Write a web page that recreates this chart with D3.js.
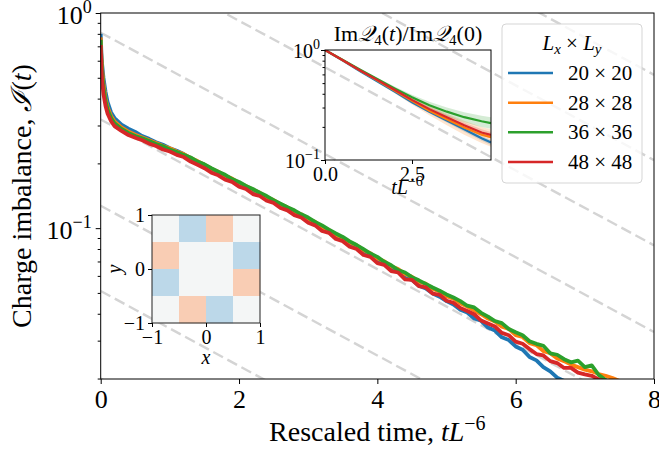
<!DOCTYPE html>
<html>
<head>
<meta charset="utf-8">
<script src="https://cdn.jsdelivr.net/npm/d3@7"></script>
<style>
  body { margin: 0; background: #fff; }
  text { font-family: "Liberation Serif", "DejaVu Serif", serif; fill: #000; }
</style>
</head>
<body>
<svg id="chart" width="659" height="452"></svg>
<script>
// ---- data ----
const times = [0, 0.01, 0.02, 0.04, 0.07, 0.1, 0.15, 0.2, 0.3, 0.4,
  0.5, 0.6, 0.7, 0.8, 0.9, 1.0, 1.1, 1.2, 1.3, 1.4,
  1.5, 1.6, 1.7, 1.8, 1.9, 2.0, 2.1, 2.2, 2.3, 2.4,
  2.5, 2.6, 2.7, 2.8, 2.9, 3.0, 3.1, 3.2, 3.3, 3.4,
  3.5, 3.6, 3.7, 3.8, 3.9, 4.0, 4.1, 4.2, 4.3, 4.4,
  4.5, 4.6, 4.7, 4.8, 4.9, 5.0, 5.1, 5.2, 5.3, 5.4,
  5.5, 5.6, 5.7, 5.8, 5.9, 6.0, 6.1, 6.2, 6.3, 6.4,
  6.5, 6.6, 6.7, 6.8, 6.9, 7.0, 7.1, 7.2, 7.3, 7.4, 7.5];

const imb20 = [0.80, 0.65, 0.58, 0.50, 0.43, 0.385, 0.345, 0.325, 0.303, 0.290,
  0.280, 0.268, 0.260, 0.251, 0.244, 0.235, 0.229, 0.221, 0.211, 0.203,
  0.195, 0.187, 0.181, 0.173, 0.168, 0.160, 0.155, 0.148, 0.144, 0.137,
  0.133, 0.127, 0.123, 0.118, 0.114, 0.109, 0.105, 0.100, 0.096, 0.092,
  0.088, 0.084, 0.081, 0.077, 0.0745, 0.0705, 0.0680, 0.0645, 0.0625, 0.0588,
  0.0575, 0.0540, 0.0525, 0.0497, 0.0480, 0.0458, 0.0442, 0.0418, 0.0405, 0.0380,
  0.0371, 0.0345, 0.0334, 0.0311, 0.0302, 0.0282, 0.0272, 0.0252, 0.0243, 0.0226,
  0.0216, 0.0202, 0.0195, 0.0188];

const imb28 = [0.77, 0.62, 0.55, 0.47, 0.40, 0.365, 0.332, 0.313, 0.294, 0.281,
  0.272, 0.264, 0.256, 0.249, 0.241, 0.235, 0.227, 0.221, 0.212, 0.205,
  0.197, 0.189, 0.183, 0.175, 0.170, 0.162, 0.157, 0.151, 0.146, 0.139,
  0.135, 0.129, 0.125, 0.119, 0.116, 0.110, 0.107, 0.101, 0.098, 0.093,
  0.0905, 0.0858, 0.0832, 0.0790, 0.0765, 0.0723, 0.0702, 0.0665, 0.0645, 0.0612,
  0.0595, 0.0562, 0.0552, 0.0522, 0.0508, 0.0483, 0.0470, 0.0448, 0.0432, 0.0415,
  0.0398, 0.0380, 0.0368, 0.0348, 0.0340, 0.0318, 0.0312, 0.0292, 0.0286, 0.0268,
  0.0262, 0.0248, 0.0241, 0.0232, 0.0226, 0.0220, 0.0216, 0.0210, 0.0206, 0.0201, 0.0195];

const imb36 = [0.75, 0.60, 0.53, 0.45, 0.39, 0.355, 0.325, 0.307, 0.289, 0.277,
  0.268, 0.2615, 0.254, 0.246, 0.240, 0.232, 0.226, 0.219, 0.213, 0.204,
  0.198, 0.190, 0.183, 0.177, 0.169, 0.164, 0.157, 0.152, 0.146, 0.141,
  0.135, 0.130, 0.125, 0.121, 0.116, 0.112, 0.107, 0.103, 0.0985, 0.0945,
  0.091, 0.0868, 0.0835, 0.0798, 0.0762, 0.0735, 0.0698, 0.0672, 0.0638, 0.0622,
  0.0592, 0.0572, 0.0551, 0.0530, 0.0512, 0.0492, 0.0476, 0.0458, 0.0436, 0.0428,
  0.0404, 0.0388, 0.0370, 0.0362, 0.0340, 0.0328, 0.0318, 0.0298, 0.0290, 0.0284,
  0.0262, 0.0258, 0.0246, 0.0238, 0.0242, 0.0226, 0.0230, 0.0208, 0.0197, 0.0188, 0.018];

const imb48 = [0.71, 0.56, 0.49, 0.42, 0.37, 0.34, 0.314, 0.298, 0.283, 0.271,
  0.263, 0.256, 0.247, 0.241, 0.232, 0.227, 0.219, 0.214, 0.204, 0.197,
  0.190, 0.181, 0.176, 0.168, 0.164, 0.156, 0.152, 0.144, 0.141, 0.134,
  0.131, 0.124, 0.121, 0.115, 0.112, 0.106, 0.103, 0.097, 0.095, 0.089,
  0.087, 0.082, 0.080, 0.075, 0.0735, 0.0688, 0.0675, 0.0632, 0.0622, 0.0578,
  0.0575, 0.0538, 0.0530, 0.0496, 0.0490, 0.0460, 0.0450, 0.0425, 0.0412, 0.0398,
  0.0372, 0.0360, 0.0349, 0.0326, 0.0318, 0.0297, 0.0290, 0.0274, 0.0260, 0.0256,
  0.0241, 0.0236, 0.0224, 0.0224, 0.0213, 0.0209, 0.0206, 0.0198, 0.0194, 0.0186, 0.018];

const sizeLabels = ['20', '28', '36', '48'];
const colors = ['#1f77b4', '#ff7f0e', '#2ca02c', '#d62728'];

// grey dashed guides: value at t = 0 and at t = 8
const guideAt0 = [12.7, 5.1, 2.05, 0.81, 0.32, 0.127, 0.051, 0.020];
const guideAt8 = [0.516, 0.207, 0.0832, 0.0329, 0.0130, 0.00516, 0.00207, 0.00081];

const xTicks = [0, 2, 4, 6, 8];
const yMajor = [1, 0.1];
const yMinor = [0.9, 0.8, 0.7, 0.6, 0.5, 0.4, 0.3, 0.2, 0.09, 0.08, 0.07, 0.06, 0.05, 0.04, 0.03, 0.02];

// inset: Im Q4(t) / Im Q4(0)
const qTimes = [0, 0.5, 1, 1.5, 2, 2.5, 3, 3.5, 4, 4.5, 4.77];
const q20 = [1, 0.805, 0.645, 0.52, 0.418, 0.335, 0.275, 0.228, 0.19, 0.158, 0.144];
const q28 = [1, 0.81, 0.655, 0.53, 0.428, 0.345, 0.28, 0.235, 0.197, 0.17, 0.161];
const q36 = [1, 0.815, 0.665, 0.545, 0.448, 0.372, 0.315, 0.275, 0.245, 0.225, 0.216];
const q48 = [1, 0.81, 0.655, 0.535, 0.435, 0.352, 0.29, 0.245, 0.207, 0.178, 0.169];
const q20lo = [1, 0.8, 0.638, 0.512, 0.41, 0.326, 0.266, 0.219, 0.181, 0.15, 0.136];
const q20hi = [1, 0.81, 0.652, 0.528, 0.426, 0.344, 0.284, 0.237, 0.199, 0.166, 0.152];
const q28lo = [1, 0.8, 0.64, 0.51, 0.405, 0.32, 0.255, 0.207, 0.17, 0.143, 0.132];
const q28hi = [1, 0.82, 0.67, 0.55, 0.452, 0.372, 0.31, 0.265, 0.228, 0.2, 0.19];
const q36lo = [1, 0.81, 0.655, 0.532, 0.43, 0.352, 0.292, 0.25, 0.22, 0.2, 0.192];
const q36hi = [1, 0.82, 0.675, 0.56, 0.466, 0.392, 0.338, 0.3, 0.272, 0.252, 0.245];
const q48lo = [1, 0.8, 0.64, 0.52, 0.42, 0.338, 0.277, 0.232, 0.195, 0.167, 0.158];
const q48hi = [1, 0.82, 0.67, 0.55, 0.45, 0.366, 0.303, 0.258, 0.219, 0.19, 0.18];

// inset: initial charge pattern (rows from y = +1 down to y = -1)
const pattern = [
  [0, -1, 1, 0],
  [1, 0, 0, -1],
  [-1, 0, 0, 1],
  [0, 1, -1, 0]
];

// ---- drawing ----
const svg = d3.select('#chart');
const main = { left: 100.7, right: 654, top: 13, bottom: 379 };

const x = d3.scaleLinear().domain([0, 8]).range([main.left, main.right]);
const y = d3.scaleLog().domain([0.0199, 1]).range([main.bottom, main.top]);

const defs = svg.append('defs');
defs.append('clipPath').attr('id', 'clipMain').append('rect')
  .attr('x', main.left).attr('y', main.top)
  .attr('width', main.right - main.left).attr('height', main.bottom - main.top);

// Guides
const guides = svg.append('g').attr('clip-path', 'url(#clipMain)');
guideAt0.forEach((v, i) => {
  guides.append('line')
    .attr('x1', x(0)).attr('y1', y(v))
    .attr('x2', x(8)).attr('y2', y(guideAt8[i]))
    .attr('stroke', '#d4d4d4').attr('stroke-width', 2.4)
    .attr('stroke-dasharray', '11,5');
});

// Main curves
const mainSeries = [imb20, imb28, imb36, imb48];
const line = d3.line().x(d => x(d[0])).y(d => y(d[1]));
const curves = svg.append('g').attr('clip-path', 'url(#clipMain)');
mainSeries.forEach((vals, i) => {
  const pts = vals.map((v, j) => [times[j], v]);
  curves.append('path').datum(pts)
    .attr('d', line)
    .attr('fill', 'none')
    .attr('stroke', colors[i])
    .attr('stroke-width', 3.8)
    .attr('stroke-linejoin', 'round');
});

// Axes
const xAxis = svg.append('g')
  .attr('transform', `translate(0,${main.bottom})`)
  .call(d3.axisBottom(x).tickValues(xTicks).tickSize(5).tickPadding(6).tickFormat(d3.format('d')));
xAxis.select('.domain').remove();
xAxis.selectAll('text').style('font-size', '26px').attr('dy', '0.71em');

const yMinorAxis = svg.append('g')
  .attr('transform', `translate(${main.left},0)`)
  .call(d3.axisLeft(y).tickValues(yMinor).tickSize(3).tickFormat(''));
yMinorAxis.select('.domain').remove();
const yMajorAxis = svg.append('g')
  .attr('transform', `translate(${main.left},0)`)
  .call(d3.axisLeft(y).tickValues(yMajor).tickSize(5).tickFormat(''));
yMajorAxis.select('.domain').remove();
svg.selectAll('.tick line').attr('stroke', '#000');

yMajor.forEach(v => {
  const t = svg.append('text')
    .attr('x', main.left - 9).attr('y', y(v) + 11)
    .attr('text-anchor', 'end').style('font-size', '26px');
  t.append('tspan').text('10');
  t.append('tspan').attr('dy', -11).style('font-size', '18px').text(v === 1 ? '0' : '\u22121');
});

svg.append('rect')
  .attr('x', main.left).attr('y', main.top)
  .attr('width', main.right - main.left).attr('height', main.bottom - main.top)
  .attr('fill', 'none').attr('stroke', '#000').attr('stroke-width', 1);

// Axis labels
const xl = svg.append('text')
  .attr('x', (main.left + main.right) / 2).attr('y', 441)
  .attr('text-anchor', 'middle').style('font-size', '28px');
xl.append('tspan').text('Rescaled time, ');
xl.append('tspan').style('font-style', 'italic').text('tL');
xl.append('tspan').attr('dy', -11).style('font-size', '20px').text('\u22126');

const yl = svg.append('text')
  .attr('transform', `translate(31,${(main.top + main.bottom) / 2}) rotate(-90)`)
  .attr('text-anchor', 'middle').style('font-size', '28px');
yl.append('tspan').text('Charge imbalance, ');
yl.append('tspan').style('font-style', 'italic').text('\u2110');
yl.append('tspan').text('(');
yl.append('tspan').style('font-style', 'italic').text('t');
yl.append('tspan').text(')');

// ---- Inset: Q4 ratio ----
const ins = { left: 325, right: 491, top: 50, bottom: 160 };
const xi = d3.scaleLinear().domain([0, 4.77]).range([ins.left, ins.right]);
const yi = d3.scaleLog().domain([0.1, 1]).range([ins.bottom, ins.top]);
defs.append('clipPath').attr('id', 'clipInset').append('rect')
  .attr('x', ins.left).attr('y', ins.top)
  .attr('width', ins.right - ins.left).attr('height', ins.bottom - ins.top);

const qMean = [q20, q28, q36, q48];
const qLo = [q20lo, q28lo, q36lo, q48lo];
const qHi = [q20hi, q28hi, q36hi, q48hi];
const insetG = svg.append('g').attr('clip-path', 'url(#clipInset)');
const area = d3.area().x(d => xi(d[0])).y0(d => yi(d[1])).y1(d => yi(d[2]));
qMean.forEach((vals, i) => {
  insetG.append('path')
    .datum(qTimes.map((t, j) => [t, qLo[i][j], qHi[i][j]]))
    .attr('d', area).attr('fill', colors[i]).attr('fill-opacity', 0.2);
});
const qLine = d3.line().x(d => xi(d[0])).y(d => yi(d[1]));
qMean.forEach((vals, i) => {
  insetG.append('path')
    .datum(qTimes.map((t, j) => [t, vals[j]]))
    .attr('d', qLine).attr('fill', 'none')
    .attr('stroke', colors[i]).attr('stroke-width', 2.2);
});

const xiAxis = svg.append('g').attr('transform', `translate(0,${ins.bottom})`)
  .call(d3.axisBottom(xi).tickValues([0, 2.5]).tickSize(4).tickPadding(3).tickFormat(d3.format('.1f')));
xiAxis.select('.domain').remove();
xiAxis.selectAll('text').style('font-size', '20px');
const yiMinor = svg.append('g').attr('transform', `translate(${ins.left},0)`)
  .call(d3.axisLeft(yi).tickValues([0.2, 0.3, 0.4, 0.5, 0.6, 0.7, 0.8, 0.9]).tickSize(2.5).tickFormat(''));
yiMinor.select('.domain').remove();
const yiMajor = svg.append('g').attr('transform', `translate(${ins.left},0)`)
  .call(d3.axisLeft(yi).tickValues([1, 0.1]).tickSize(4).tickFormat(''));
yiMajor.select('.domain').remove();
svg.selectAll('.tick line').attr('stroke', '#000');

[1, 0.1].forEach(v => {
  const t = svg.append('text')
    .attr('x', ins.left - 5).attr('y', yi(v) + 8)
    .attr('text-anchor', 'end').style('font-size', '20px');
  t.append('tspan').text('10');
  t.append('tspan').attr('dy', -9).style('font-size', '14px').text(v === 1 ? '0' : '\u22121');
});
svg.append('rect')
  .attr('x', ins.left).attr('y', ins.top)
  .attr('width', ins.right - ins.left).attr('height', ins.bottom - ins.top)
  .attr('fill', 'none').attr('stroke', '#000').attr('stroke-width', 1);

const qt = svg.append('text').attr('x', (ins.left + ins.right) / 2).attr('y', 41)
  .attr('text-anchor', 'middle').style('font-size', '22px');
qt.append('tspan').text('Im');
qt.append('tspan').style('font-style', 'italic').text('\uD835\uDCAC');
qt.append('tspan').attr('dy', 4).style('font-size', '15px').text('4');
qt.append('tspan').attr('dy', -4).text('(');
qt.append('tspan').style('font-style', 'italic').text('t');
qt.append('tspan').text(')/Im');
qt.append('tspan').style('font-style', 'italic').text('\uD835\uDCAC');
qt.append('tspan').attr('dy', 4).style('font-size', '15px').text('4');
qt.append('tspan').attr('dy', -4).text('(0)');

const qx = svg.append('text').attr('x', 407).attr('y', 194)
  .attr('text-anchor', 'middle').style('font-size', '20px');
qx.append('tspan').style('font-style', 'italic').text('tL');
qx.append('tspan').attr('dy', -8).style('font-size', '14px').text('\u22126');

// ---- Inset: initial pattern ----
const hm = { left: 152, right: 260, top: 215, bottom: 323 };
const cellX = d3.scaleBand().domain(d3.range(4)).range([hm.left, hm.right]);
const cellY = d3.scaleBand().domain(d3.range(4)).range([hm.top, hm.bottom]);
const hmColor = d3.scaleOrdinal().domain([-1, 0, 1]).range(['#bcd8e9', '#f4f6f6', '#f9cdb4']);
const hx = d3.scaleLinear().domain([-1, 1]).range([hm.left, hm.right]);
const hy = d3.scaleLinear().domain([-1, 1]).range([hm.bottom, hm.top]);

pattern.forEach((row, r) => row.forEach((v, c) => {
  svg.append('rect')
    .attr('x', cellX(c)).attr('y', cellY(r))
    .attr('width', cellX.bandwidth() + 0.3).attr('height', cellY.bandwidth() + 0.3)
    .attr('fill', hmColor(v));
}));
svg.append('rect')
  .attr('x', hm.left).attr('y', hm.top)
  .attr('width', hm.right - hm.left).attr('height', hm.bottom - hm.top)
  .attr('fill', 'none').attr('stroke', '#222').attr('stroke-width', 1);

const hmFmt = d => d < 0 ? '\u22121' : String(d);
const hxAxis = svg.append('g').attr('transform', `translate(0,${hm.bottom})`)
  .call(d3.axisBottom(hx).tickValues([-1, 0, 1]).tickSize(4).tickPadding(3).tickFormat(hmFmt));
hxAxis.select('.domain').remove();
hxAxis.selectAll('text').style('font-size', '20px');
const hyAxis = svg.append('g').attr('transform', `translate(${hm.left},0)`)
  .call(d3.axisLeft(hy).tickValues([-1, 0, 1]).tickSize(4).tickPadding(3).tickFormat(hmFmt));
hyAxis.select('.domain').remove();
hyAxis.selectAll('text').style('font-size', '20px');
svg.selectAll('.tick line').attr('stroke', '#000');

svg.append('text').attr('x', 206).attr('y', 364).attr('text-anchor', 'middle')
  .style('font-size', '20px').style('font-style', 'italic').text('x');
svg.append('text').attr('transform', `translate(121,${(hm.top + hm.bottom) / 2}) rotate(-90)`)
  .attr('text-anchor', 'middle')
  .style('font-size', '20px').style('font-style', 'italic').text('y');

// ---- Legend ----
const leg = svg.append('g');
leg.append('rect').attr('x', 502).attr('y', 24).attr('width', 140).attr('height', 159)
  .attr('rx', 4).attr('fill', '#fff').attr('fill-opacity', 0.8)
  .attr('stroke', '#d5d5d5').attr('stroke-width', 1);
const lt = leg.append('text').attr('x', 572).attr('y', 50).attr('text-anchor', 'middle')
  .style('font-size', '21px');
lt.append('tspan').style('font-style', 'italic').text('L');
lt.append('tspan').attr('dy', 4).style('font-size', '15px').style('font-style', 'italic').text('x');
lt.append('tspan').attr('dy', -4).text(' \u00d7 ');
lt.append('tspan').style('font-style', 'italic').text('L');
lt.append('tspan').attr('dy', 4).style('font-size', '15px').style('font-style', 'italic').text('y');

const legY = d3.scalePoint().domain(sizeLabels).range([73, 162]);
sizeLabels.forEach((s, i) => {
  leg.append('line').attr('x1', 508).attr('x2', 553)
    .attr('y1', legY(s)).attr('y2', legY(s))
    .attr('stroke', colors[i]).attr('stroke-width', 2.5);
  leg.append('text').attr('x', 568).attr('y', legY(s) + 7)
    .style('font-size', '21px').text(`${s} \u00d7 ${s}`);
});
</script>
</body>
</html>
